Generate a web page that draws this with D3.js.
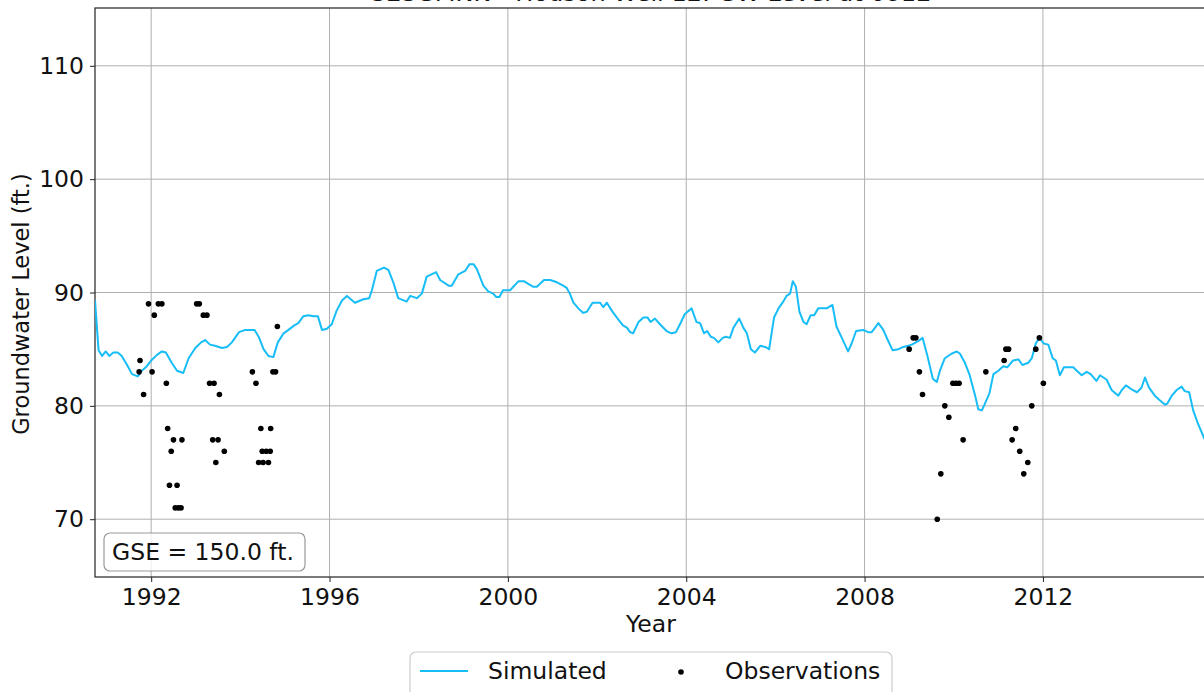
<!DOCTYPE html>
<html>
<head>
<meta charset="utf-8">
<script src="https://cdn.jsdelivr.net/npm/d3@7"></script>
<style>
  body { margin: 0; background: #fff; }
  svg { display: block; font-family: "DejaVu Sans", sans-serif; }
</style>
</head>
<body>
<svg width="1204" height="692"></svg>
<script>
// simulated groundwater level (decimal year, ft.)
const simYears = [1990.74,1990.82,1990.90,1990.98,1991.06,1991.15,1991.25,1991.34,1991.46,1991.57,1991.70,1991.79,1991.88,1992.00,1992.13,1992.24,1992.33,1992.46,1992.58,1992.72,1992.84,1992.99,1993.12,1993.21,1993.32,1993.43,1993.59,1993.70,1993.81,1993.97,1994.11,1994.32,1994.41,1994.52,1994.63,1994.74,1994.84,1994.97,1995.08,1995.21,1995.30,1995.41,1995.53,1995.64,1995.74,1995.83,1995.94,1996.05,1996.16,1996.28,1996.39,1996.57,1996.76,1996.89,1996.95,1997.06,1997.22,1997.32,1997.43,1997.54,1997.73,1997.81,1997.96,1998.07,1998.18,1998.39,1998.48,1998.67,1998.74,1998.89,1999.04,1999.14,1999.23,1999.30,1999.45,1999.56,1999.67,1999.74,1999.81,1999.89,2000.05,2000.24,2000.36,2000.44,2000.57,2000.65,2000.81,2000.95,2001.10,2001.24,2001.32,2001.39,2001.47,2001.58,2001.69,2001.77,2001.90,2002.07,2002.14,2002.22,2002.33,2002.44,2002.58,2002.67,2002.74,2002.81,2002.93,2003.04,2003.13,2003.20,2003.30,2003.41,2003.56,2003.67,2003.77,2003.86,2003.97,2004.12,2004.23,2004.31,2004.40,2004.47,2004.55,2004.62,2004.72,2004.82,2004.89,2004.98,2005.06,2005.19,2005.28,2005.36,2005.45,2005.54,2005.66,2005.77,2005.86,2005.97,2006.07,2006.16,2006.25,2006.33,2006.39,2006.46,2006.54,2006.63,2006.70,2006.79,2006.87,2006.96,2007.06,2007.15,2007.28,2007.37,2007.49,2007.63,2007.71,2007.81,2007.97,2008.08,2008.16,2008.31,2008.42,2008.51,2008.63,2008.76,2008.87,2008.98,2009.06,2009.20,2009.30,2009.41,2009.53,2009.62,2009.69,2009.80,2009.95,2010.07,2010.14,2010.25,2010.35,2010.48,2010.55,2010.63,2010.70,2010.80,2010.89,2011.00,2011.11,2011.20,2011.33,2011.45,2011.54,2011.67,2011.75,2011.84,2011.92,2012.02,2012.12,2012.22,2012.29,2012.38,2012.47,2012.57,2012.68,2012.76,2012.87,2012.98,2013.07,2013.20,2013.28,2013.43,2013.54,2013.69,2013.77,2013.86,2014.01,2014.11,2014.21,2014.29,2014.38,2014.51,2014.62,2014.74,2014.79,2014.89,2015.00,2015.11,2015.18,2015.28,2015.37,2015.48,2015.61,2015.70];
const simLevels = [89.3,84.9,84.4,84.8,84.4,84.7,84.7,84.4,83.6,82.8,82.6,83.1,83.4,84.0,84.5,84.8,84.7,83.8,83.1,82.9,84.2,85.1,85.6,85.8,85.4,85.3,85.1,85.2,85.6,86.5,86.7,86.7,86.1,85.0,84.4,84.3,85.6,86.4,86.7,87.1,87.3,87.9,88.0,87.9,87.9,86.7,86.8,87.2,88.4,89.3,89.7,89.1,89.4,89.5,90.2,91.9,92.2,92.0,90.9,89.5,89.2,89.7,89.5,89.9,91.4,91.8,91.1,90.6,90.6,91.6,91.9,92.5,92.5,92.1,90.6,90.1,89.9,89.6,89.6,90.2,90.2,91.0,91.0,90.8,90.5,90.5,91.1,91.1,90.9,90.6,90.4,89.9,89.1,88.6,88.2,88.3,89.1,89.1,88.7,89.1,88.4,87.8,87.1,86.9,86.5,86.4,87.4,87.8,87.8,87.4,87.7,87.2,86.6,86.4,86.5,87.2,88.1,88.6,87.4,87.3,86.4,86.6,86.1,86.0,85.6,86.0,86.1,86.0,86.9,87.7,86.9,86.4,85.0,84.7,85.3,85.2,85.0,87.8,88.6,89.1,89.7,89.9,91.0,90.5,88.3,87.4,87.2,88.0,88.0,88.6,88.6,88.6,88.9,87.0,86.0,84.8,85.5,86.6,86.7,86.5,86.5,87.3,86.7,85.9,84.9,85.0,85.2,85.3,85.4,85.7,86.0,84.4,82.4,82.1,83.1,84.2,84.6,84.8,84.6,83.8,82.8,80.9,79.7,79.6,80.2,81.1,82.8,83.1,83.5,83.4,84.0,84.1,83.6,83.8,84.2,85.5,86.0,85.5,85.4,84.2,84.0,82.7,83.4,83.4,83.4,83.1,82.7,83.0,82.8,82.2,82.7,82.3,81.4,80.9,81.4,81.8,81.4,81.2,81.6,82.5,81.6,80.9,80.5,80.1,80.2,80.9,81.4,81.7,81.3,81.2,79.6,78.4,77.2,76.5];

// observed groundwater level
const obsYears = [1991.73,1991.75,1991.83,1991.94,1992.02,1992.07,1992.16,1992.24,1992.34,1992.37,1992.41,1992.45,1992.50,1992.54,1992.58,1992.61,1992.67,1992.69,1993.02,1993.08,1993.17,1993.25,1993.31,1993.38,1993.41,1993.45,1993.50,1993.53,1993.64,1994.27,1994.35,1994.41,1994.46,1994.49,1994.51,1994.58,1994.63,1994.67,1994.68,1994.73,1994.79,1994.83,2009.00,2009.09,2009.15,2009.23,2009.30,2009.63,2009.71,2009.80,2009.89,2009.98,2010.05,2010.12,2010.21,2010.72,2011.13,2011.17,2011.23,2011.31,2011.39,2011.48,2011.57,2011.66,2011.75,2011.84,2011.92,2012.01];
const obsLevels = [83,84,81,89,83,88,89,89,82,78,73,76,77,71,73,71,71,77,89,89,88,88,82,77,82,75,77,81,76,83,82,75,78,76,75,76,75,76,78,83,83,87,85,86,86,83,81,70,74,80,79,82,82,82,77,83,84,85,85,77,78,76,74,75,80,85,86,82];

const xTicks = [1992, 1996, 2000, 2004, 2008, 2012];
const yTicks = [70, 80, 90, 100, 110];
const title = "SESGMNN - Hodson Well 12: GW Level at 0812";
const gseText = "GSE = 150.0 ft.";

const fs = 23.5;
const svg = d3.select("svg"),
      margin = { top: 8, right: -3, bottom: 115, left: 95 },
      width = +svg.attr("width") - margin.left - margin.right,
      height = +svg.attr("height") - margin.top - margin.bottom,
      g = svg.append("g").attr("transform", `translate(${margin.left},${margin.top})`);

const x = d3.scaleLinear().domain([1990.74, 2015.68]).range([0, width]);
const y = d3.scaleLinear().domain([64.9, 115.1]).range([height, 0]);

svg.append("defs").append("clipPath").attr("id", "plotclip")
   .append("rect").attr("width", width).attr("height", height);

// grid
g.append("g").selectAll("line").data(xTicks).enter().append("line")
 .attr("x1", d => x(d)).attr("x2", d => x(d))
 .attr("y1", 0).attr("y2", height)
 .attr("stroke", "#b0b0b0").attr("stroke-width", 1);
g.append("g").selectAll("line").data(yTicks).enter().append("line")
 .attr("x1", 0).attr("x2", width)
 .attr("y1", d => y(d)).attr("y2", d => y(d))
 .attr("stroke", "#b0b0b0").attr("stroke-width", 1);

// axes
const xAxis = g.append("g")
 .attr("transform", `translate(0,${height})`)
 .call(d3.axisBottom(x).tickValues(xTicks).tickFormat(d3.format("d")).tickSize(5).tickPadding(6));
const yAxis = g.append("g")
 .call(d3.axisLeft(y).tickValues(yTicks).tickSize(5).tickPadding(6));
[xAxis, yAxis].forEach(a => {
  a.selectAll("text").attr("font-size", fs).attr("fill", "#111").attr("font-family", "DejaVu Sans");
  a.selectAll("line").attr("stroke", "#222");
  a.select(".domain").remove();
});

// spines
g.append("rect").attr("width", width).attr("height", height)
 .attr("fill", "none").attr("stroke", "#222").attr("stroke-width", 1.2);

// simulated line
const simData = simYears.map((d, i) => ({ t: d, v: simLevels[i] }));
g.append("path")
 .datum(simData)
 .attr("clip-path", "url(#plotclip)")
 .attr("fill", "none")
 .attr("stroke", "#17bdf6")
 .attr("stroke-width", 2)
 .attr("stroke-linejoin", "round")
 .attr("d", d3.line().x(d => x(d.t)).y(d => y(d.v)));

// observations
g.selectAll(".obs")
 .data(obsYears.map((d, i) => ({ t: d, v: obsLevels[i] })))
 .enter().append("circle")
 .attr("class", "obs")
 .attr("cx", d => x(d.t))
 .attr("cy", d => y(d.v))
 .attr("r", 2.8)
 .attr("fill", "#000");

// GSE box
const gse = g.append("g").attr("transform", "translate(9,525)");
gse.append("rect").attr("width", 201).attr("height", 38).attr("rx", 6)
   .attr("fill", "#fff").attr("fill-opacity", 0.8).attr("stroke", "#999").attr("stroke-width", 1.2);
gse.append("text").attr("x", 8).attr("y", 27).attr("font-size", fs).attr("fill", "#111").text(gseText);

// title (mostly cut off at top, as in the source figure)
svg.append("text").attr("x", 651).attr("y", 1).attr("text-anchor", "middle")
   .attr("font-size", 24).attr("fill", "#111").text(title);

// axis labels
svg.append("text").attr("x", 651).attr("y", 632).attr("text-anchor", "middle")
   .attr("font-size", fs).attr("fill", "#111").text("Year");
svg.append("text").attr("transform", "translate(29,304) rotate(-90)").attr("text-anchor", "middle")
   .attr("font-size", 22.5).attr("fill", "#111").text("Groundwater Level (ft.)");

// legend
const legend = svg.append("g").attr("transform", "translate(410,652)");
legend.append("rect").attr("width", 482).attr("height", 50).attr("rx", 6)
      .attr("fill", "#fff").attr("stroke", "#ccc").attr("stroke-width", 1.2);
legend.append("line").attr("x1", 10).attr("x2", 58).attr("y1", 19).attr("y2", 19)
      .attr("stroke", "#17bdf6").attr("stroke-width", 2);
legend.append("text").attr("x", 78).attr("y", 27).attr("font-size", fs).attr("fill", "#111").text("Simulated");
legend.append("circle").attr("cx", 271).attr("cy", 20).attr("r", 2.8).attr("fill", "#000");
legend.append("text").attr("x", 315).attr("y", 27).attr("font-size", fs).attr("fill", "#111").text("Observations");
</script>
</body>
</html>
